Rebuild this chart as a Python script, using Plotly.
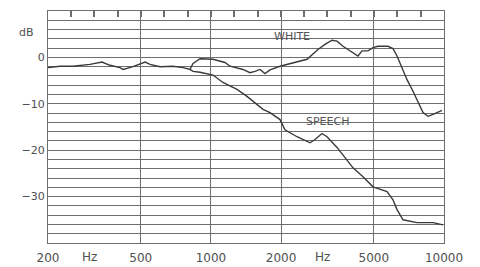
import math
import plotly.graph_objects as go

# Shared low-frequency part (both curves coincide)
common_f = [200, 225, 256, 283, 303, 341, 369, 407, 420, 463, 522, 548, 605, 688, 759, 813]
common_db = [-2.2, -1.9, -1.9, -1.7, -1.5, -1.0, -1.7, -2.2, -2.6, -2.0, -1.0, -1.5, -2.0, -1.9, -2.2, -2.6]

white_f = [838, 898, 1021, 1149, 1207, 1373, 1471, 1546, 1624, 1706, 1793, 1979, 2250, 2584,
           2880, 3086, 3308, 3476, 3688, 3952, 4276, 4449, 4720, 4960, 5210, 5750, 6042, 6287,
           6606, 6940, 7362, 7737, 8129, 8540, 8973, 9806]
white_db = [-1.3, -0.3, -0.4, -1.1, -1.9, -2.6, -3.3, -3.0, -2.6, -3.5, -2.7, -1.9, -1.1, -0.4,
            1.7, 2.8, 3.7, 3.5, 2.4, 1.4, 0.3, 1.4, 1.4, 2.1, 2.4, 2.4, 1.9, 0.3,
            -2.2, -4.8, -7.3, -9.7, -11.9, -12.7, -12.3, -11.4]

speech_f = [838, 898, 1021, 1126, 1294, 1428, 1577, 1673, 1793, 1979, 2078, 2341, 2662, 2797,
            2996, 3148, 3476, 3836, 4071, 4492, 4960, 5696, 6042, 6287, 6670, 7660, 8973, 9904]
speech_db = [-3.0, -3.2, -3.8, -5.4, -6.9, -8.4, -10.2, -11.2, -11.9, -13.4, -15.6, -17.1, -18.4, -17.7,
             -16.4, -17.1, -19.4, -22.0, -23.8, -25.7, -27.9, -28.9, -30.7, -32.8, -35.0, -35.6, -35.6, -36.1]

x_ticks = [200, 500, 1000, 2000, 5000, 10000]
x_labels = ["200", "500", "1000", "2000", "5000", "10000"]
hz_positions = [300, 3000]
third_octaves = [250, 315, 400, 500, 630, 800, 1000, 1250, 1600, 2000, 2500, 3150, 4000, 5000, 6300, 8000]
y_grid = list(range(-40, 11, 2))
y_labels = {0: "0", -10: "\u221210", -20: "\u221220", -30: "\u221230"}

line_color = "#3a3a3a"
grid_color = "#6e6e6e"
font_x = dict(family="DejaVu Sans", size=12, color="#505050")
font_y = dict(family="DejaVu Sans", size=11, color="#505050")

fig = go.Figure()
fig.add_trace(go.Scatter(x=common_f + white_f, y=common_db + white_db, mode="lines",
                         line=dict(color=line_color, width=1.4), showlegend=False))
fig.add_trace(go.Scatter(x=[common_f[-1]] + speech_f, y=[common_db[-1]] + speech_db, mode="lines",
                         line=dict(color=line_color, width=1.4), showlegend=False))
# dummy trace for the top third-octave scale
fig.add_trace(go.Scatter(x=[third_octaves[0]], y=[0], xaxis="x2", mode="markers",
                         marker=dict(opacity=0), showlegend=False, hoverinfo="skip"))

label_font = dict(family="DejaVu Sans", size=11, color="#555")
fig.add_annotation(x=math.log10(2228), y=4.4, xref="x", yref="y", text="WHITE",
                   showarrow=False, font=label_font)
fig.add_annotation(x=math.log10(3148), y=-13.8, xref="x", yref="y", text="SPEECH",
                   showarrow=False, font=label_font)
fig.add_annotation(x=-0.03, y=5.3, xref="paper", yref="y", text="dB", showarrow=False,
                   xanchor="right", font=font_y)
for h in hz_positions:
    fig.add_annotation(x=math.log10(h), y=0, xref="x", yref="paper", text="Hz",
                       showarrow=False, yanchor="middle", yshift=-14, font=font_x)

xr = [math.log10(200), math.log10(10000)]
fig.update_layout(
    width=480, height=267,
    margin=dict(l=48, r=36, t=11, b=24),
    paper_bgcolor="white", plot_bgcolor="white",
    xaxis=dict(type="log", range=xr, tickvals=x_ticks, ticktext=x_labels,
               showgrid=True, gridcolor=grid_color, gridwidth=1,
               showline=True, linecolor=grid_color, linewidth=1.2, mirror=True,
               ticks="", tickfont=font_x, zeroline=False, automargin=False,
               ticklabelstandoff=3),
    xaxis2=dict(type="log", range=xr, overlaying="x", side="top", tickvals=third_octaves,
                ticks="inside", ticklen=6, tickwidth=1.5, tickcolor=grid_color,
                showticklabels=False, showgrid=False, showline=False, automargin=False),
    yaxis=dict(range=[-40, 10], tickvals=y_grid,
               ticktext=[y_labels.get(v, "") for v in y_grid],
               showgrid=True, gridcolor=grid_color, gridwidth=1,
               showline=True, linecolor=grid_color, linewidth=1.2, mirror=True,
               ticks="", tickfont=font_y, zeroline=False, automargin=False),
)

fig.write_html("out.html", config={"displayModeBar": False},
               post_script="document.body.style.margin='0';")
